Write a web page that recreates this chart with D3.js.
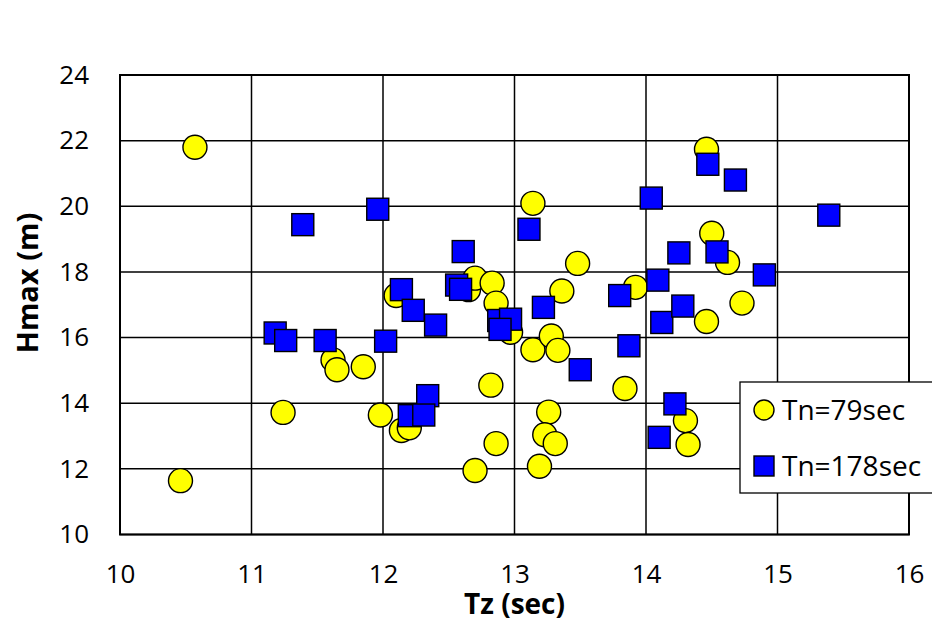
<!DOCTYPE html>
<html>
<head>
<meta charset="utf-8">
<script src="https://cdn.jsdelivr.net/npm/d3@7"></script>
<style>
  body { margin: 0; background: #fff; }
  svg { display: block; }
  text { font-family: "Open Sans", sans-serif; fill: #000; }
</style>
</head>
<body>
<svg id="chart" width="932" height="623"></svg>
<script>
// Tn = 79 sec (yellow circles)
var tz79 = [10.57, 10.46, 11.24, 11.62, 11.65, 11.85, 11.98, 12.14, 12.20, 12.10,
            12.65, 12.70, 12.83, 12.86, 12.97, 13.14, 13.28, 13.33, 13.48, 13.36,
            12.82, 12.86, 12.70, 13.26, 13.23, 13.31, 13.19, 13.84, 13.14, 13.92,
            14.46, 14.50, 14.62, 14.73, 14.46, 14.30, 14.32];
var hmax79 = [21.80, 11.64, 13.72, 15.32, 15.02, 15.11, 13.64, 13.17, 13.25, 17.28,
              17.46, 17.81, 17.66, 17.05, 16.16, 15.63, 16.05, 15.61, 18.26, 17.42,
              14.55, 12.77, 11.95, 13.73, 13.04, 12.77, 12.08, 14.45, 20.09, 17.53,
              21.74, 19.18, 18.29, 17.05, 16.49, 13.47, 12.74];

// Tn = 178 sec (blue squares)
var tz178 = [11.18, 11.26, 11.39, 11.56, 11.96, 12.02, 12.14, 12.23, 12.40, 12.34,
             12.20, 12.31, 12.56, 12.59, 12.61, 12.88, 12.97, 12.89, 13.11, 13.22,
             13.50, 13.80, 13.87, 14.04, 14.09, 14.12, 14.25, 14.28, 14.47, 14.54,
             14.68, 14.90, 15.39, 14.22, 14.10];
var hmax178 = [16.14, 15.91, 19.44, 15.91, 19.91, 15.89, 17.46, 16.83, 16.38, 14.23,
               13.62, 13.64, 17.60, 17.47, 18.62, 16.52, 16.56, 16.25, 19.30, 16.92,
               15.02, 17.28, 15.75, 20.25, 17.75, 16.46, 18.58, 16.96, 21.28, 18.61,
               20.80, 17.91, 19.73, 13.98, 12.96];

var xTicks = [10, 11, 12, 13, 14, 15, 16];
var yTicks = [10, 12, 14, 16, 18, 20, 22, 24];
var seriesNames = ["Tn=79sec", "Tn=178sec"];

var svg = d3.select("#chart");
var plotL = 120, plotR = 909, plotT = 75, plotB = 534.5;

var x = d3.scaleLinear().domain([10, 16]).range([plotL, plotR]);
var y = d3.scaleLinear().domain([10, 24]).range([plotB, plotT]);

// grid
svg.append("g").selectAll("line").data(xTicks).join("line")
    .attr("x1", d => x(d)).attr("x2", d => x(d))
    .attr("y1", plotT).attr("y2", plotB)
    .attr("stroke", "#000").attr("stroke-width", 1.5);
svg.append("g").selectAll("line").data(yTicks).join("line")
    .attr("x1", plotL).attr("x2", plotR)
    .attr("y1", d => y(d)).attr("y2", d => y(d))
    .attr("stroke", "#000").attr("stroke-width", 1.5);

// frame
svg.append("rect")
    .attr("x", plotL).attr("y", plotT)
    .attr("width", plotR - plotL).attr("height", plotB - plotT)
    .attr("fill", "none").attr("stroke", "#000").attr("stroke-width", 2);

// axes (labels only)
var xAxis = svg.append("g")
    .attr("transform", "translate(0," + plotB + ")")
    .call(d3.axisBottom(x).tickValues(xTicks).tickFormat(d3.format("d"))
        .tickSize(0).tickPadding(30));
var yAxis = svg.append("g")
    .attr("transform", "translate(" + plotL + ",0)")
    .call(d3.axisLeft(y).tickValues(yTicks).tickFormat(d3.format("d"))
        .tickSize(0).tickPadding(31));
[xAxis, yAxis].forEach(function(g) {
    g.select(".domain").remove();
    g.selectAll("text").style("font-family", "'Open Sans', sans-serif")
        .style("font-size", "26px").attr("fill", "#000");
});

// axis titles
svg.append("text")
    .attr("x", (plotL + plotR) / 2).attr("y", 614)
    .attr("text-anchor", "middle")
    .style("font-size", "28px").style("font-weight", "bold")
    .text("Tz (sec)");
svg.append("text")
    .attr("transform", "translate(38,283) rotate(-90)")
    .attr("text-anchor", "middle")
    .style("font-size", "29px").style("font-weight", "bold")
    .text("Hmax (m)");

// points
var pts79 = tz79.map((d, i) => [d, hmax79[i]]);
var pts178 = tz178.map((d, i) => [d, hmax178[i]]);

svg.append("g").selectAll("circle").data(pts79).join("circle")
    .attr("cx", d => x(d[0])).attr("cy", d => y(d[1]))
    .attr("r", 12)
    .attr("fill", "#ffff00").attr("stroke", "#000").attr("stroke-width", 1.4);

var sq = 22;
svg.append("g").selectAll("rect").data(pts178).join("rect")
    .attr("x", d => x(d[0]) - sq / 2).attr("y", d => y(d[1]) - sq / 2)
    .attr("width", sq).attr("height", sq)
    .attr("fill", "#0000ff").attr("stroke", "#000").attr("stroke-width", 1.4);

// legend
var lg = svg.append("g");
lg.append("rect")
    .attr("x", 740).attr("y", 382).attr("width", 200).attr("height", 111)
    .attr("fill", "#fff").attr("stroke", "#000").attr("stroke-width", 1.3);
lg.append("circle")
    .attr("cx", 764).attr("cy", 410).attr("r", 10)
    .attr("fill", "#ffff00").attr("stroke", "#000").attr("stroke-width", 1.4);
lg.append("rect")
    .attr("x", 754).attr("y", 456).attr("width", 20).attr("height", 20)
    .attr("fill", "#0000ff").attr("stroke", "#000").attr("stroke-width", 1.4);
lg.selectAll("text").data(seriesNames).join("text")
    .attr("x", 782).attr("y", (d, i) => 420 + i * 56)
    .style("font-size", "28px")
    .text(d => d);
</script>
</body>
</html>
